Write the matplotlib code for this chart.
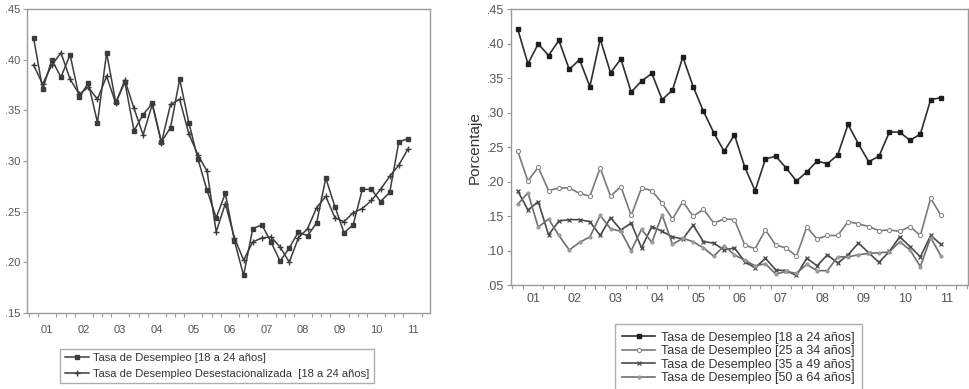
import numpy as np
import pandas as pd
import matplotlib
matplotlib.use("Agg")
import matplotlib.pyplot as plt
from matplotlib.ticker import FuncFormatter, FixedLocator

plt.rcParams['font.family'] = ['Liberation Sans', 'DejaVu Sans']

# quarterly observations 2001Q1 .. 2011Q2
periods = pd.period_range('2001Q1', '2011Q2', freq='Q')
year_labels = ['01', '02', '03', '04', '05', '06', '07', '08', '09', '10', '11']

tasa_18_24 = [0.422, 0.371, 0.400, 0.383, 0.405, 0.363, 0.377, 0.338, 0.407, 0.358,
              0.378, 0.330, 0.346, 0.357, 0.319, 0.333, 0.381, 0.338, 0.302, 0.271,
              0.244, 0.268, 0.221, 0.187, 0.233, 0.237, 0.220, 0.201, 0.214, 0.230,
              0.226, 0.239, 0.283, 0.255, 0.229, 0.237, 0.272, 0.272, 0.260, 0.269,
              0.319, 0.322]
tasa_18_24_sa = [0.395, 0.376, 0.395, 0.407, 0.381, 0.366, 0.373, 0.361, 0.384, 0.357,
                 0.380, 0.352, 0.326, 0.356, 0.318, 0.356, 0.361, 0.327, 0.306, 0.290,
                 0.230, 0.258, 0.224, 0.202, 0.220, 0.224, 0.225, 0.215, 0.200, 0.224,
                 0.233, 0.254, 0.265, 0.244, 0.240, 0.249, 0.253, 0.261, 0.272, 0.285,
                 0.296, 0.312]
tasa_25_34 = [0.245, 0.201, 0.221, 0.187, 0.191, 0.191, 0.183, 0.179, 0.220, 0.179,
              0.193, 0.151, 0.191, 0.187, 0.169, 0.146, 0.171, 0.150, 0.160, 0.140,
              0.146, 0.145, 0.108, 0.103, 0.130, 0.108, 0.104, 0.092, 0.134, 0.117,
              0.122, 0.122, 0.142, 0.139, 0.135, 0.129, 0.130, 0.128, 0.135, 0.122,
              0.176, 0.151]
tasa_35_49 = [0.187, 0.159, 0.171, 0.123, 0.143, 0.145, 0.145, 0.142, 0.122, 0.148,
              0.130, 0.140, 0.104, 0.135, 0.128, 0.120, 0.117, 0.137, 0.113, 0.111,
              0.101, 0.104, 0.084, 0.075, 0.089, 0.072, 0.071, 0.064, 0.089, 0.078,
              0.094, 0.082, 0.094, 0.111, 0.097, 0.083, 0.099, 0.120, 0.106, 0.091,
              0.122, 0.109]
tasa_50_64 = [0.167, 0.184, 0.134, 0.146, 0.122, 0.101, 0.112, 0.120, 0.151, 0.132,
              0.128, 0.100, 0.131, 0.112, 0.152, 0.109, 0.118, 0.113, 0.104, 0.092,
              0.107, 0.094, 0.086, 0.078, 0.081, 0.066, 0.070, 0.067, 0.080, 0.071,
              0.071, 0.091, 0.091, 0.094, 0.096, 0.097, 0.098, 0.113, 0.101, 0.077,
              0.119, 0.092]

x = np.array([p.year + (p.quarter - 0.5) / 4 for p in periods])

AXIS_COL = '#9a9a9a'
TEXT_COL = '#555555'
LINE_COL = '#3c3c3c'


def style_axes(ax, ylim, yticks, xlim, label_size, xpad):
    ax.set_xlim(*xlim)
    ax.set_ylim(*ylim)
    ax.set_yticks(yticks)
    ax.yaxis.set_major_formatter(FuncFormatter(lambda v, pos: f"{v:.2f}".lstrip('0')))
    ax.set_xticks(np.arange(2001, 2012) + 0.5)
    ax.set_xticklabels(year_labels)
    ax.xaxis.set_minor_locator(FixedLocator(np.arange(2001, 2012.01, 0.25)))
    ax.tick_params(axis='x', which='major', length=0, pad=xpad, labelsize=label_size, colors=TEXT_COL)
    ax.tick_params(axis='x', which='minor', length=3, width=0.8, color=AXIS_COL, direction='out')
    ax.tick_params(axis='y', which='major', length=3, width=0.8, color=AXIS_COL,
                   labelsize=label_size, labelcolor=TEXT_COL, pad=2)
    for s in ax.spines.values():
        s.set_color(AXIS_COL)
        s.set_linewidth(1.0)


fig = plt.figure(figsize=(9.7, 3.89), dpi=100)

# left panel
ax1 = fig.add_axes([0.028, 0.196, 0.415, 0.780])
ax1.plot(x, tasa_18_24, color=LINE_COL, lw=1.1, marker='s', ms=2.8,
         mfc=LINE_COL, mec=LINE_COL, label='Tasa de Desempleo [18 a 24 años]')
ax1.plot(x, tasa_18_24_sa, color=LINE_COL, lw=1.1, marker='+', ms=4, mew=1.0,
         label='Tasa de Desempleo Desestacionalizada  [18 a 24 años]')
style_axes(ax1, (0.15, 0.45), np.arange(0.15, 0.451, 0.05), (2000.95, 2011.97), 8, 9)
leg1 = ax1.legend(loc='upper left', bbox_to_anchor=(0.062, 0.103), bbox_transform=fig.transFigure,
                  fontsize=8, frameon=True, fancybox=False, handlelength=2.2, numpoints=1,
                  borderpad=0.4, labelspacing=0.5, handletextpad=0.4, borderaxespad=0)
leg1.get_frame().set_edgecolor(AXIS_COL)
leg1.get_frame().set_linewidth(1.0)
for t in leg1.get_texts():
    t.set_color('#333333')

# right panel
ax2 = fig.add_axes([0.527, 0.267, 0.471, 0.709])
ax2.plot(x, tasa_18_24, color='#2e2e2e', lw=1.2, marker='s', ms=3.2,
         mfc='#1e1e1e', mec='#1e1e1e', label='Tasa de Desempleo [18 a 24 años]')
ax2.plot(x, tasa_25_34, color='#7a7a7a', lw=1.2, marker='o', ms=3.0,
         mfc='white', mec='#8a8a8a', mew=0.8, label='Tasa de Desempleo [25 a 34 años]')
ax2.plot(x, tasa_35_49, color='#4a4a4a', lw=1.2, marker='x', ms=3.2, mew=0.9,
         label='Tasa de Desempleo [35 a 49 años]')
ax2.plot(x, tasa_50_64, color='#6e6e6e', lw=1.2, marker='o', ms=2.0,
         mfc='#9a9a9a', mec='#9a9a9a', label='Tasa de Desempleo [50 a 64 años]')
style_axes(ax2, (0.05, 0.45), np.arange(0.05, 0.451, 0.05), (2000.97, 2012.03), 9, 6)
ax2.set_ylabel('Porcentaje', fontsize=11, color='#333333', labelpad=4)
leg2 = ax2.legend(loc='upper left', bbox_to_anchor=(0.634, 0.167), bbox_transform=fig.transFigure,
                  fontsize=9, frameon=True, fancybox=False, handlelength=2.6, numpoints=1,
                  borderpad=0.6, labelspacing=0.12, handletextpad=0.45, borderaxespad=0)
leg2.get_frame().set_edgecolor(AXIS_COL)
leg2.get_frame().set_linewidth(1.0)
for t in leg2.get_texts():
    t.set_color('#333333')

fig.savefig('out.png', dpi=100)
